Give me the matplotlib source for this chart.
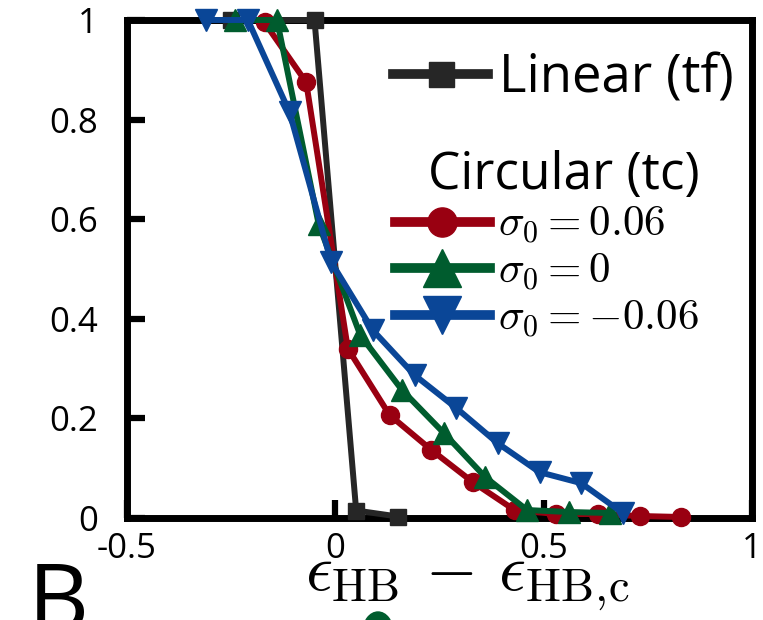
import numpy as np
import matplotlib
matplotlib.use('Agg')
from matplotlib import pyplot as plt
from matplotlib.lines import Line2D
from matplotlib.patches import Ellipse

plt.rcParams['font.family'] = ['Open Sans', 'DejaVu Sans']
plt.rcParams['mathtext.fontset'] = 'cm'

# data
x_lin = [-0.25, -0.05, 0.05, 0.15]
y_lin = [1.0, 1.0, 0.015, 0.003]

x_pos = [-0.17, -0.07, 0.03, 0.13, 0.23, 0.33, 0.43, 0.53, 0.63, 0.73, 0.83]
y_pos = [0.995, 0.875, 0.34, 0.207, 0.137, 0.072, 0.016, 0.008, 0.008, 0.004, 0.002]

x_zero = [-0.24, -0.14, -0.04, 0.06, 0.16, 0.26, 0.36, 0.46, 0.56, 0.66]
y_zero = [1.0, 1.0, 0.59, 0.367, 0.257, 0.171, 0.082, 0.016, 0.012, 0.01]

x_neg = [-0.31, -0.21, -0.11, -0.01, 0.09, 0.19, 0.29, 0.39, 0.49, 0.59, 0.69]
y_neg = [1.0, 1.0, 0.815, 0.514, 0.377, 0.287, 0.221, 0.15, 0.092, 0.07, 0.01]

c_lin = '#262626'
c_pos = '#990011'
c_zero = '#005C2E'
c_neg = '#0A4697'

W, H = 763, 620
fig = plt.figure(figsize=(W/100, H/100), dpi=100)
ax = fig.add_axes([127/W, 1-518/H, 625/W, 498/H])

lw = 4.3
ax.plot(x_lin, y_lin, '-s', color=c_lin, lw=lw, ms=12, clip_on=False, zorder=3)
ax.plot(x_pos, y_pos, '-o', color=c_pos, lw=lw, ms=13, clip_on=False, zorder=4)
ax.plot(x_zero, y_zero, '-^', color=c_zero, lw=lw, ms=16, clip_on=False, zorder=5)
ax.plot(x_neg, y_neg, '-v', color=c_neg, lw=lw, ms=16, clip_on=False, zorder=6)

ax.set_xlim(-0.5, 1)
ax.set_ylim(0, 1)
ax.set_xticks([-0.5, 0, 0.5, 1])
ax.set_xticklabels(['-0.5', '0', '0.5', '1'])
ax.set_yticks([0, 0.2, 0.4, 0.6, 0.8, 1])
ax.set_yticklabels(['0', '0.2', '0.4', '0.6', '0.8', '1'])
for s in ax.spines.values():
    s.set_linewidth(5)
ax.tick_params(direction='in', length=13, width=4.5, labelsize=25)
ax.tick_params(axis='y', pad=21)
ax.tick_params(axis='x', pad=10)

ax.set_xlabel(r'$\epsilon_{\mathrm{HB}}\,-\,\epsilon_{\mathrm{HB,\!c}}$', fontsize=48)
ax.xaxis.set_label_coords(0.544, -0.056)

# legends
h_lin = Line2D([], [], color=c_lin, lw=7, marker='s', ms=18)
leg1 = ax.legend([h_lin], ['Linear (tf)'], loc='upper left',
                 bbox_to_anchor=(393/W, 1-52/H), bbox_transform=fig.transFigure,
                 frameon=False, fontsize=38, handlelength=1.8, handletextpad=0.2,
                 borderpad=0, borderaxespad=0)
ax.add_artist(leg1)

h_pos = Line2D([], [], color=c_pos, lw=7, marker='o', ms=21)
h_zero = Line2D([], [], color=c_zero, lw=7, marker='^', ms=27)
h_neg = Line2D([], [], color=c_neg, lw=7, marker='v', ms=27)
leg2 = ax.legend([h_pos, h_zero, h_neg],
                 [r'$\sigma_0 = 0.06$', r'$\sigma_0 = 0$', r'$\sigma_0 = {-}0.06$'],
                 title='Circular (tc)', title_fontsize=37, loc='upper left',
                 bbox_to_anchor=(395/W, 1-150/H), bbox_transform=fig.transFigure,
                 frameon=False, fontsize=31, handlelength=2.2, handletextpad=0.2,
                 labelspacing=0.05, borderpad=0, borderaxespad=0, alignment='right')

fig.text(28/W, 1-560/H, 'B', fontsize=68, va='top', ha='left')
fig.patches.append(Ellipse((378/W, 1-632/H), 30/W, 40/H, color=c_zero,
                           transform=fig.transFigure, figure=fig))

fig.savefig('out.png', dpi=100)
